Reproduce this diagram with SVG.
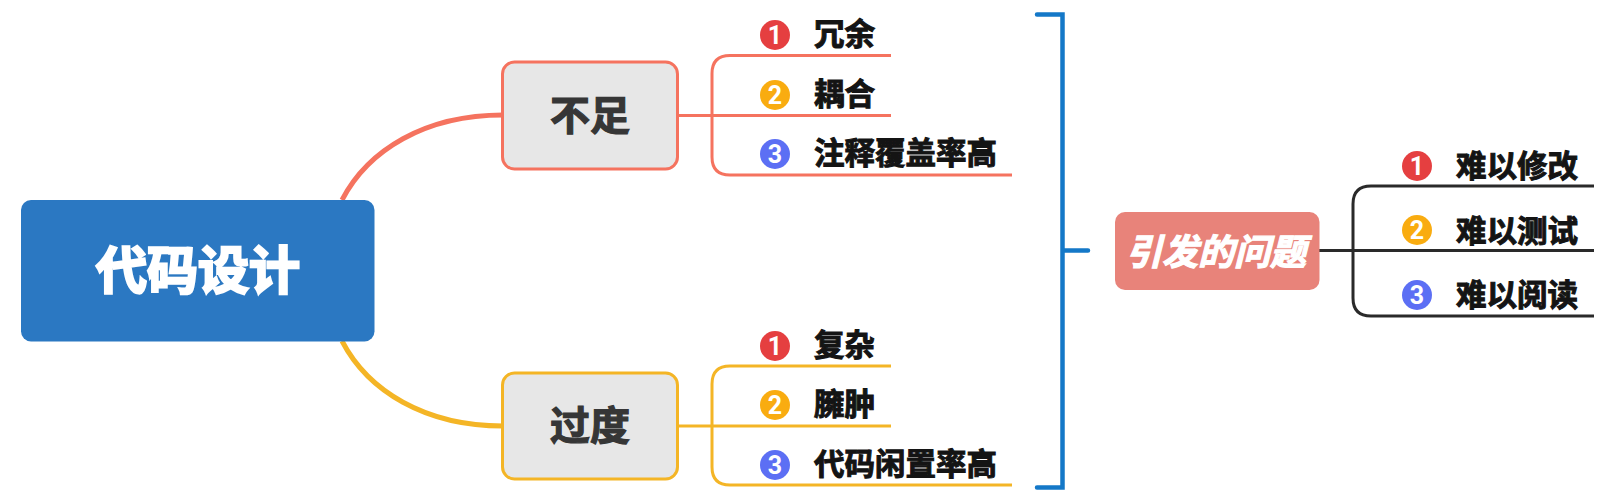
<svg xmlns="http://www.w3.org/2000/svg" width="1620" height="504" viewBox="0 0 1620 504">
<style>
text{font-family:"Noto Sans CJK SC","Liberation Sans",sans-serif;font-weight:700;dominant-baseline:central}
.leaf{font-size:30.500px;fill:#141414;stroke:#141414;stroke-width:1px}
.mid{font-size:40px;fill:#363636;text-anchor:middle;stroke:#363636;stroke-width:1.200px}
.num{font-family:Roboto,"Liberation Sans",sans-serif;font-size:25px;fill:#fff;text-anchor:middle;font-weight:700}
.r{fill:#e53f40}.y{fill:#f9ac10}.b{fill:#5c6ff4}
.line{fill:none;stroke-width:3}
.red{stroke:#f5735f}.yel{stroke:#f4b526}.blk{stroke:#2a2a2a}
.box{fill:#e7e7e7;stroke-width:3}
</style>
<g id="connectors" fill="none">
<path d="M342 200C368 150 425 115 503 115" stroke="#f5735f" stroke-width="5"/>
<path d="M342 341C368 391 425 426 503 426" stroke="#f4b526" stroke-width="5"/>
<path class="line red" d="M677 115.500H891M891 55.500H730Q712 55.500 712 73.500V157Q712 175 730 175H1012"/>
<path class="line yel" d="M677 426H891M891 366H730Q712 366 712 384V467Q712 485 730 485H1012"/>
<path class="line blk" d="M1319 250.500H1594M1594 186H1371Q1353 186 1353 204V298Q1353 316 1371 316H1594"/>
<path d="M1037 14.500H1062.500V487.500H1037M1062.500 250.500H1088" stroke="#1478c8" stroke-width="4.500" stroke-linecap="round"/>
</g>
<g id="root"><rect x="21" y="200" width="353.500" height="141.500" rx="10" fill="#2b78c2"/><text x="198" y="267" font-size="51" fill="#fff" stroke="#fff" stroke-width="2.500" text-anchor="middle">代码设计</text></g>
<g id="buzu"><rect class="box red" x="502.500" y="62" width="175" height="107" rx="12"/><text class="mid" x="590" y="113">不足</text></g>
<g id="guodu"><rect class="box yel" x="502.500" y="373" width="175" height="106" rx="12"/><text class="mid" x="590" y="423">过度</text></g>
<g id="problem"><rect x="1115" y="212" width="204.500" height="78" rx="10" fill="#e8837a"/><text x="1216" y="249" font-size="36" fill="#fff" stroke="#fff" stroke-width="1.200" text-anchor="middle" font-style="italic">引发的问题</text></g>
<g id="n1"><circle class="r" cx="775" cy="35" r="15"/><text class="num" x="775" y="35">1</text><text class="leaf" x="814" y="32">冗余</text></g>
<g id="n2"><circle class="y" cx="775" cy="95" r="15"/><text class="num" x="775" y="95">2</text><text class="leaf" x="814" y="92">耦合</text></g>
<g id="n3"><circle class="b" cx="775" cy="154" r="15"/><text class="num" x="775" y="154">3</text><text class="leaf" x="814" y="151">注释覆盖率高</text></g>
<g id="n4"><circle class="r" cx="775" cy="346" r="15"/><text class="num" x="775" y="346">1</text><text class="leaf" x="814" y="343">复杂</text></g>
<g id="n5"><circle class="y" cx="775" cy="405" r="15"/><text class="num" x="775" y="405">2</text><text class="leaf" x="814" y="402">臃肿</text></g>
<g id="n6"><circle class="b" cx="775" cy="465" r="15"/><text class="num" x="775" y="465">3</text><text class="leaf" x="814" y="462">代码闲置率高</text></g>
<g id="n7"><circle class="r" cx="1417" cy="166" r="15"/><text class="num" x="1417" y="166">1</text><text class="leaf" x="1456" y="164">难以修改</text></g>
<g id="n8"><circle class="y" cx="1417" cy="230" r="15"/><text class="num" x="1417" y="230">2</text><text class="leaf" x="1456" y="229">难以测试</text></g>
<g id="n9"><circle class="b" cx="1417" cy="295" r="15"/><text class="num" x="1417" y="295">3</text><text class="leaf" x="1456" y="293">难以阅读</text></g>
</svg>
